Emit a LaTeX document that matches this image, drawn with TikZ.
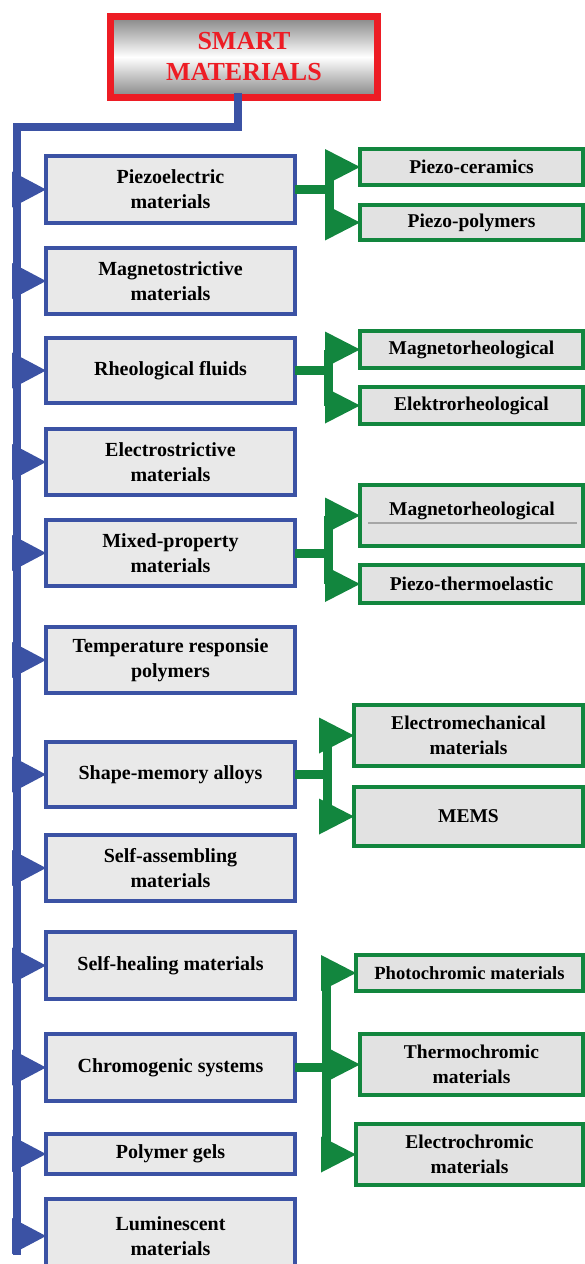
\documentclass[tikz,border=0pt]{standalone}
\usepackage{fontspec}
\setmainfont{Liberation Serif}
\usetikzlibrary{calc}
\definecolor{bblue}{RGB}{59,82,164}
\definecolor{ggreen}{RGB}{18,134,62}
\definecolor{rred}{RGB}{237,28,36}
\definecolor{bfill}{RGB}{233,233,233}
\definecolor{gfill}{RGB}{226,226,226}
\definecolor{tgray}{RGB}{132,132,132}
\begin{document}
\begin{tikzpicture}[x=1pt,y=-1pt,
  every node/.style={outer sep=0pt, inner sep=0pt},
  tbox/.style={draw=rred, line width=6.5pt, minimum width=267pt, minimum height=81pt,
    top color=tgray, bottom color=tgray, middle color=white, text=rred, align=center,
    font=\fontsize{26}{31}\selectfont\bfseries},
  bbox/.style={draw=bblue, line width=3.5pt, fill=bfill, minimum width=249pt, align=center,
    font=\fontsize{20}{25}\selectfont\bfseries},
  gbox/.style={draw=ggreen, line width=3.5pt, fill=gfill, align=center,
    font=\fontsize{19.5}{25}\selectfont\bfseries},
  trunkline/.style={draw=bblue, line width=8pt},
  gline/.style={draw=ggreen, line width=9pt},
]
\useasboundingbox (0,0) rectangle (585,1264);

% title
\node[tbox] (top) at (244,57) {SMART\\MATERIALS};

% blue boxes
\node[bbox, minimum height=67pt] (b1) at (170.5,189.5) {Piezoelectric\\materials};
\node[bbox, minimum height=66pt] (b2) at (170.5,281) {Magnetostrictive\\materials};
\node[bbox, minimum height=65pt] (b3) at (170.5,370.5) {Rheological fluids};
\node[bbox, minimum height=66pt] (b4) at (170.5,462) {Electrostrictive\\materials};
\node[bbox, minimum height=66pt] (b5) at (170.5,553) {Mixed-property\\materials};
\node[bbox, minimum height=66pt] (b6) at (170.5,660) {Temperature responsie\\polymers};
\node[bbox, minimum height=65pt] (b7) at (170.5,774.5) {Shape-memory alloys};
\node[bbox, minimum height=66pt] (b8) at (170.5,868) {Self-assembling\\materials};
\node[bbox, minimum height=67pt] (b9) at (170.5,965.5) {Self-healing materials};
\node[bbox, minimum height=67pt] (b10) at (170.5,1067.5) {Chromogenic systems};
\node[bbox, minimum height=40pt] (b11) at (170.5,1154) {Polymer gels};
\node[bbox, minimum height=74pt] (b12) at (170.5,1236) {\raisebox{0pt}{Luminescent}\\materials};

% green boxes
\node[gbox, minimum width=223pt, minimum height=36pt] (g1) at (471.5,167) {Piezo-ceramics};
\node[gbox, minimum width=223pt, minimum height=35pt] (g2) at (471.5,222.5) {Piezo-polymers};
\node[gbox, minimum width=223pt, minimum height=37pt] (g3) at (471.5,349.5) {Magnetorheological};
\node[gbox, minimum width=223pt, minimum height=37pt] (g4) at (471.5,405.5) {Elektrorheological};
\node[gbox, minimum width=223pt, minimum height=61pt] (g5) at (471.5,515.5) {};
\node[font=\fontsize{19.5}{25}\selectfont\bfseries] (g5t) at (472,511) {Magnetorheological};
\draw[black!35, line width=1.2pt] ($(g5.west)+(8,7.5)$) -- ($(g5.east)+(-6,7.5)$);
\node[gbox, minimum width=223pt, minimum height=38pt] (g6) at (471.5,584) {Piezo-thermoelastic};
\node[gbox, minimum width=229pt, minimum height=61pt] (g7) at (468.5,735.5) {Electromechanical\\materials};
\node[gbox, minimum width=229pt, minimum height=59pt] (g8) at (468.5,816.5) {MEMS};
\node[gbox, minimum width=227pt, minimum height=36pt, font=\fontsize{18.6}{25}\selectfont\bfseries] (g9) at (469.5,973) {Photochromic materials};
\node[gbox, minimum width=223pt, minimum height=61pt] (g10) at (471.5,1064.5) {Thermochromic\\materials};
\node[gbox, minimum width=227pt, minimum height=61pt] (g11) at (469.5,1154.5) {Electrochromic\\materials};

% blue trunk
\coordinate (tk) at (17,127);
\coordinate (tkend) at (17,1255);
\draw[trunkline] ($(top.south)+(-6,-5)$) |- (tk) -- (tkend);
\foreach \n in {b1,b2,b3,b4,b5,b6,b7,b8,b9,b10,b11,b12}{
  \fill[bblue] ($(\n.west)+(-34,-18)$) -- (\n.west) -- ($(\n.west)+(-34,18)$) -- cycle;
}

% green branches
\coordinate (j1) at (329,0);
\coordinate (j3) at (328,0);
\coordinate (j5) at (328,0);
\coordinate (j7) at (327,0);
\coordinate (j10) at (326,0);
\draw[gline] (b1.east) -- (b1.east -| j1);
\draw[gline] (j1 |- g1.west) -- (j1 |- g2.west);
\draw[gline] (b3.east) -- (b3.east -| j3);
\draw[gline] (j3 |- g3.west) -- (j3 |- g4.west);
\draw[gline] (b5.east) -- (b5.east -| j5);
\draw[gline] (j5 |- g5.west) -- (j5 |- g6.west);
\draw[gline] (b7.east) -- (b7.east -| j7);
\draw[gline] (j7 |- g7.west) -- (j7 |- g8.west);
\draw[gline] (b10.east) -- (b10.east -| j10);
\draw[gline] (j10 |- g9.west) -- (j10 |- g11.west);
\foreach \n in {g1,g2,g3,g4,g5,g6,g7,g8,g9,g10,g11}{
  \fill[ggreen] ($(\n.west)+(-35,-18)$) -- (\n.west) -- ($(\n.west)+(-35,18)$) -- cycle;
}
\end{tikzpicture}
\end{document}
